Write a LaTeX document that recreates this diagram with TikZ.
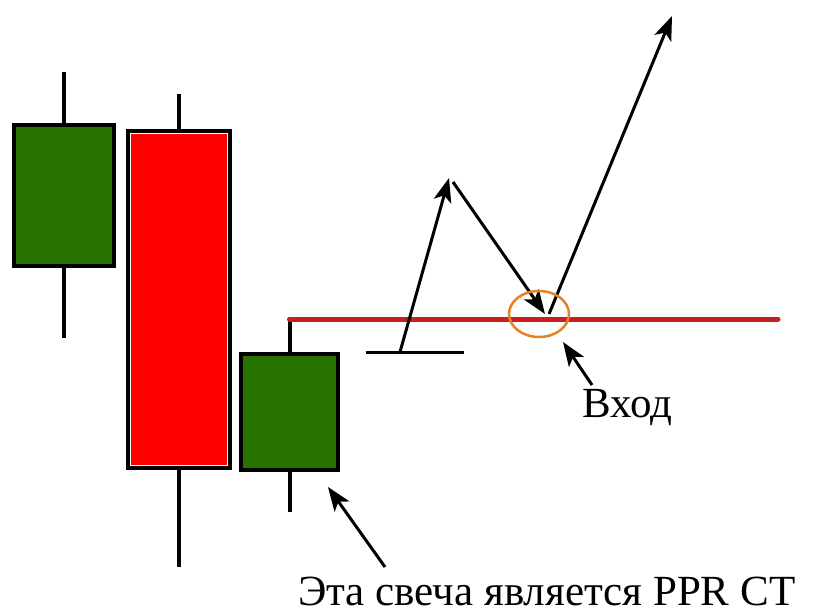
\documentclass[tikz,border=0pt]{standalone}
\usepackage{fontspec}
\setmainfont{Liberation Serif}
\usetikzlibrary{positioning, arrows.meta, shapes.geometric}
\definecolor{candlegreen}{RGB}{38,115,0}
\definecolor{levelred}{RGB}{200,30,30}
\definecolor{entryorange}{RGB}{232,128,40}
\tikzset{
  > = {Stealth[length = 24pt, width = 18pt, inset = 6pt]},
  body/.style = {draw, line width = 4pt, inner sep = 0pt},
  bull/.style = {body, fill = candlegreen},
  bear/.style = {body, fill = red},
  wick/.style = {line width = 4pt},
  move/.style = {->, line width = 3pt},
  level/.style = {levelred, line width = 5pt, line cap = round},
  entryring/.style = {draw = entryorange, ellipse, line width = 2.5pt,
    minimum width = 60pt, minimum height = 46pt},
  note/.style = {font = \fontsize{43}{48}\selectfont, anchor = base west,
    inner sep = 0pt}
}
\begin{document}
\begin{tikzpicture}[x = 1pt, y = -1pt]
\useasboundingbox (0,0) rectangle (816,615);

% candles
\node [bull, minimum width = 100pt, minimum height = 141pt] (c1) at (64,195.5) {};
\node [bear, minimum width = 102pt, minimum height = 337pt] (c2) at (179,299.5) {};
\node [bull, minimum width = 97pt, minimum height = 116pt] (c3) at (289.5,412) {};

\draw [white, line width = 1.2pt] ([shift = {(4.4,4.4)}]c2.north west)
  rectangle ([shift = {(-4.4,-4.4)}]c2.south east);

\coordinate (c1hi) at (64,72);
\coordinate (c1lo) at (64,338);
\coordinate (c2hi) at (179,94);
\coordinate (c2lo) at (179,567);
\coordinate (c3lo) at (289.5,512);
\coordinate (lvlstart) at (289.5,319);
\coordinate (lvlend) at (778,319);

\draw [wick] (c1.north) -- (c1hi);
\draw [wick] (c1.south) -- (c1lo);
\draw [wick] (c2.north) -- (c2hi);
\draw [wick] (c2.south) -- (c2lo);
\draw [wick] (c3.north) -- (lvlstart);
\draw [wick] (c3.south) -- (c3lo);

% level and price path
\draw [level] (lvlstart) -- (lvlend);

\coordinate (baseL) at (366,352);
\coordinate (baseR) at (464,352);
\draw [line width = 3pt] (baseL) -- (baseR);

\coordinate (m0) at (400,352);
\coordinate (m1) at (449,178);
\coordinate (m1b) at (453,182);
\coordinate (m2) at (545,314);
\coordinate (m2b) at (549,314);
\coordinate (m3) at (672,16);

\draw [move] (m0) -- (m1);
\draw [move] (m1b) -- (m2);
\draw [move] (m2b) -- (m3);

\node [entryring] (entry) at (539,314) {};

% labels
\node [note] (entrytext) at (582,417) {Вход};
\node [note] (pprtext) at (298,605) {Эта свеча является PPR CT};

\coordinate (entrytail) at (592,385);
\coordinate (entrytip) at (563,342);
\draw [move] (entrytail) -- (entrytip);

\coordinate (ppr tail) at (385,567);
\coordinate (ppr tip) at (328,487);
\draw [move] (ppr tail) -- (ppr tip);

\end{tikzpicture}
\end{document}
